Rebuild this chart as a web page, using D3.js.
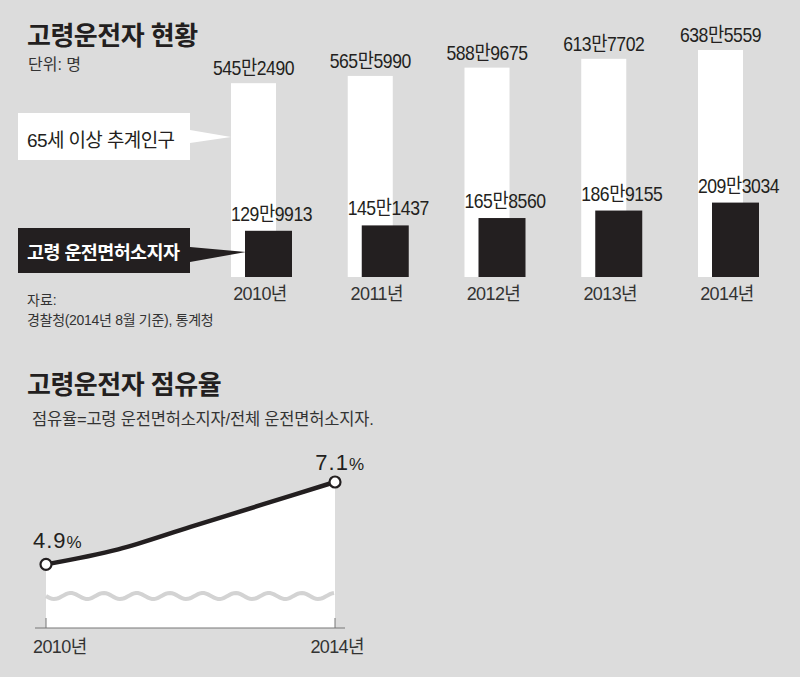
<!DOCTYPE html>
<html>
<head>
<meta charset="utf-8">
<script src="https://cdn.jsdelivr.net/npm/d3@7"></script>
<style>
  body { margin: 0; background: #dcdcdc; }
  svg { display: block; font-family: "Liberation Sans", "Noto Sans CJK KR", sans-serif; }
</style>
</head>
<body>
<svg width="800" height="677"></svg>
<script>
// data: 만 단위 (10,000 people)
var years = ['2010', '2011', '2012', '2013', '2014']
var population = [545.2490, 565.5990, 588.9675, 613.7702, 638.5559]
var popLabels = ['545만2490', '565만5990', '588만9675', '613만7702', '638만5559']
var drivers = [129.9913, 145.1437, 165.8560, 186.9155, 209.3034]
var driverLabels = ['129만9913', '145만1437', '165만8560', '186만9155', '209만3034']
var shareYears = [2010, 2011, 2012, 2013, 2014]
var share = [4.9, 5.3, 5.9, 6.5, 7.1]

var svg = d3.select('svg')
var ink = '#231f20'

// ---------- top: bars ----------
var x = d3.scaleBand().domain(years).range([231, 231 + 116.75 * 5]).padding(0)
var bw = 45
var y = d3.scaleLinear().domain([0, 638.5559]).range([277, 50])

svg.append('text').attr('x', 27).attr('y', 45)
  .attr('font-size', 26).attr('font-weight', 'bold').attr('fill', ink)
  .attr('letter-spacing', -0.5)
  .text('고령운전자 현황')
svg.append('text').attr('x', 28).attr('y', 70)
  .attr('font-size', 16).attr('fill', '#333')
  .text('단위: 명')

var g = svg.selectAll('g.yr').data(years).enter().append('g').attr('class', 'yr')

g.append('rect')
  .attr('x', function (d) { return x(d) })
  .attr('y', function (d, i) { return y(population[i]) })
  .attr('width', bw)
  .attr('height', function (d, i) { return y(0) - y(population[i]) })
  .attr('fill', '#fff')

g.append('rect')
  .attr('x', function (d) { return x(d) + 14 })
  .attr('y', function (d, i) { return y(drivers[i]) })
  .attr('width', 47)
  .attr('height', function (d, i) { return y(0) - y(drivers[i]) })
  .attr('fill', ink)

// narrow value labels
function valueLabel(sel, cx, cy, txt) {
  sel.append('g')
    .attr('transform', function (d, i) { return 'translate(' + cx(d, i) + ',' + cy(d, i) + ') scale(0.88,1)' })
    .append('text')
    .attr('text-anchor', 'middle').attr('font-size', 20).attr('letter-spacing', -0.5)
    .attr('fill', ink)
    .text(txt)
}
valueLabel(g,
  function (d) { return x(d) + bw / 2 },
  function (d, i) { return y(population[i]) - 8 },
  function (d, i) { return popLabels[i] })
valueLabel(g,
  function (d) { return x(d) + 14 + 47 / 2 + 3 },
  function (d, i) { return y(drivers[i]) - 10 },
  function (d, i) { return driverLabels[i] })

g.append('text')
  .attr('x', function (d) { return x(d) + 29 })
  .attr('y', 300)
  .attr('text-anchor', 'middle').attr('font-size', 18).attr('letter-spacing', -0.6)
  .attr('fill', '#333')
  .text(function (d) { return d + '년' })

// callouts
svg.append('path').attr('d', 'M18,113H190V130L231,137L190,143V160H18Z').attr('fill', '#fff')
svg.append('text').attr('x', 27).attr('y', 147)
  .attr('font-size', 19).attr('letter-spacing', -0.6).attr('fill', ink)
  .text('65세 이상 추계인구')

svg.append('path').attr('d', 'M18,228H190V247L246,252L190,262V273H18Z').attr('fill', ink)
svg.append('text').attr('x', 27).attr('y', 259)
  .attr('font-size', 18.5).attr('font-weight', 'bold').attr('letter-spacing', -0.6).attr('fill', '#fff')
  .text('고령 운전면허소지자')

svg.append('text').attr('x', 27).attr('y', 305)
  .attr('font-size', 14).attr('fill', '#333').text('자료:')
svg.append('text').attr('x', 27).attr('y', 325)
  .attr('font-size', 14).attr('fill', '#333').attr('letter-spacing', -0.3)
  .text('경찰청(2014년 8월 기준), 통계청')

// ---------- bottom: share line ----------
svg.append('text').attr('x', 27).attr('y', 394)
  .attr('font-size', 26).attr('font-weight', 'bold').attr('fill', ink)
  .attr('letter-spacing', -0.5)
  .text('고령운전자 점유율')
svg.append('text').attr('x', 32).attr('y', 425)
  .attr('font-size', 16.5).attr('fill', '#333').attr('letter-spacing', -0.2)
  .text('점유율=고령 운전면허소지자/전체 운전면허소지자.')

var lx = d3.scaleLinear().domain([2010, 2014]).range([46, 335])
var ly = d3.scaleLinear().domain([3.2, 7.1]).range([628, 482])

var area = d3.area()
  .x(function (d, i) { return lx(shareYears[i]) })
  .y0(ly(3.2))
  .y1(function (d) { return ly(d) })
  .curve(d3.curveMonotoneX)
var line = d3.line()
  .x(function (d, i) { return lx(shareYears[i]) })
  .y(function (d) { return ly(d) })
  .curve(d3.curveMonotoneX)

svg.append('path').datum(share).attr('d', area).attr('fill', '#fff')

// wavy break mark
var waveY = 596, wave = []
for (var px = lx(2010); px <= lx(2014); px += 2)
  wave.push([px, waveY + 3 * Math.sin((px - lx(2010)) / 33 * 2 * Math.PI)])
svg.append('path').attr('d', d3.line()(wave))
  .attr('fill', 'none').attr('stroke', '#d3d3d3').attr('stroke-width', 4)

// axis baseline + ticks
var axis = svg.append('g').attr('transform', 'translate(0,' + ly(3.2) + ')')
axis.append('line').attr('x1', 35).attr('x2', 345).attr('stroke', '#777').attr('stroke-width', 1)
axis.selectAll('line.tk').data([2010, 2014]).enter().append('line').attr('class', 'tk')
  .attr('x1', lx).attr('x2', lx).attr('y1', -10).attr('y2', 0)
  .attr('stroke', '#777').attr('stroke-width', 1)
axis.append('text').attr('x', 33).attr('y', 25)
  .attr('font-size', 18).attr('letter-spacing', -0.6).attr('fill', '#333').text('2010년')
axis.append('text').attr('x', 364).attr('y', 25).attr('text-anchor', 'end')
  .attr('font-size', 18).attr('letter-spacing', -0.6).attr('fill', '#333').text('2014년')

svg.append('path').datum(share).attr('d', line)
  .attr('fill', 'none').attr('stroke', ink).attr('stroke-width', 4.5)

var ends = [0, share.length - 1]
svg.selectAll('circle.end').data(ends).enter().append('circle').attr('class', 'end')
  .attr('cx', function (i) { return lx(shareYears[i]) })
  .attr('cy', function (i) { return ly(share[i]) })
  .attr('r', 5.5).attr('fill', '#fff').attr('stroke', ink).attr('stroke-width', 2.2)

var lbl = svg.selectAll('text.pct').data(ends).enter().append('text').attr('class', 'pct')
  .attr('x', function (i) { return i === 0 ? 33 : 364 })
  .attr('y', function (i) { return ly(share[i]) - (i === 0 ? 16 : 12) })
  .attr('text-anchor', function (i) { return i === 0 ? 'start' : 'end' })
  .attr('fill', ink)
lbl.append('tspan').attr('font-size', 22).attr('letter-spacing', 1)
  .text(function (i) { return share[i].toFixed(1) })
lbl.append('tspan').attr('font-size', 17)
  .text('%')
</script>
</body>
</html>
